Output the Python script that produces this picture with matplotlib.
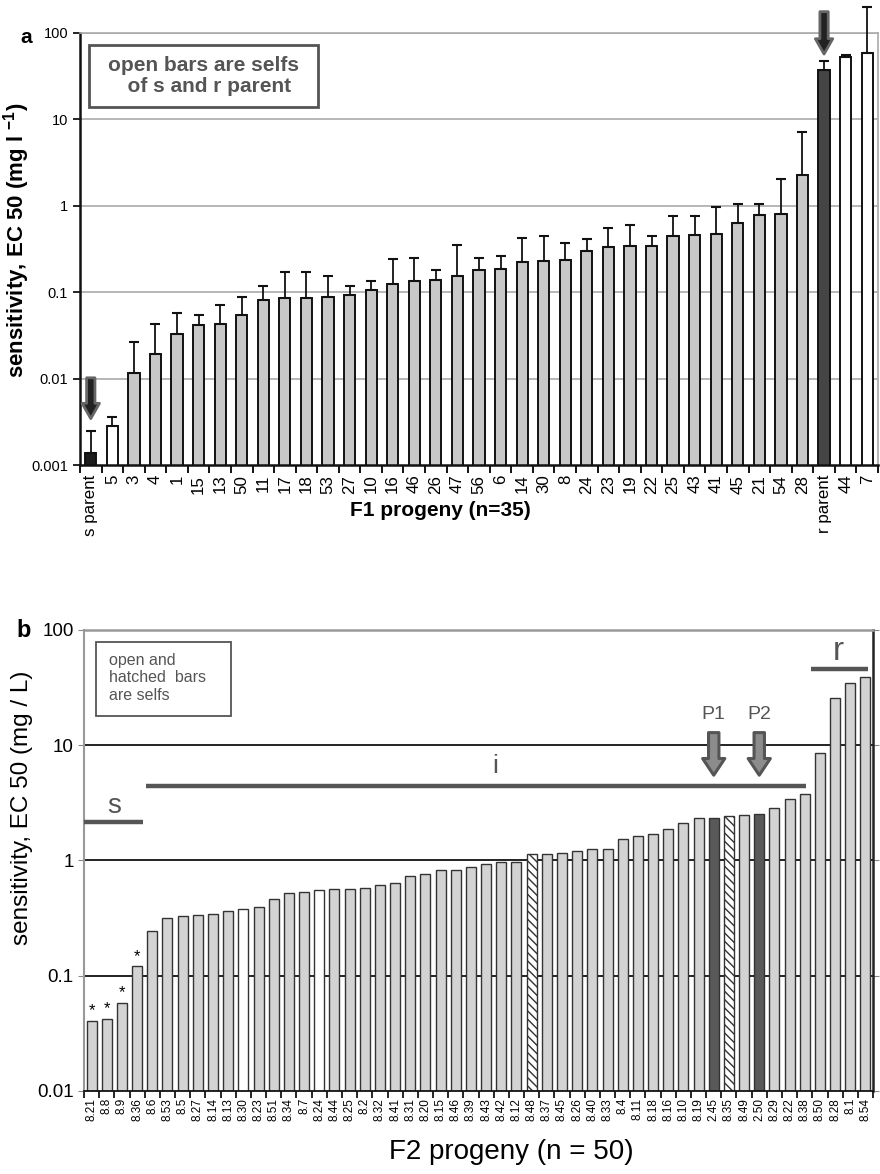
import matplotlib
matplotlib.use("Agg")
import matplotlib.pyplot as plt
from matplotlib.patches import Rectangle

plt.rcParams['font.family'] = ['Liberation Sans', 'DejaVu Sans']
plt.rcParams['mathtext.fontset'] = 'custom'
plt.rcParams['mathtext.rm'] = 'Liberation Sans'
plt.rcParams['mathtext.bf'] = 'Liberation Sans:bold'

# ---- panel a: F1 progeny ----
f1_labels = ['s parent', '5', '3', '4', '1', '15', '13', '50', '11', '17', '18', '53',
             '27', '10', '16', '46', '26', '47', '56', '6', '14', '30', '8', '24', '23',
             '19', '22', '25', '43', '41', '45', '21', '54', '28', 'r parent', '44', '7']
f1_ec50 = [0.00137, 0.0028, 0.0117, 0.0192, 0.0327, 0.0412, 0.0427, 0.0542, 0.0823,
           0.0859, 0.086, 0.088, 0.094, 0.107, 0.124, 0.135, 0.140, 0.154, 0.183, 0.188,
           0.222, 0.230, 0.239, 0.301, 0.331, 0.343, 0.343, 0.444, 0.460, 0.476, 0.64,
           0.783, 0.813, 2.25, 37.5, 52.5, 58.4]
f1_err_top = [0.00247, 0.0036, 0.0266, 0.0423, 0.0572, 0.0538, 0.0713, 0.0883, 0.118,
              0.170, 0.170, 0.154, 0.118, 0.134, 0.245, 0.251, 0.183, 0.349, 0.251, 0.261,
              0.429, 0.444, 0.375, 0.410, 0.554, 0.596, 0.444, 0.757, 0.757, 0.978, 1.06,
              1.06, 2.02, 7.13, 46.9, 56.0, 199.0]
f1_kind = ['s'] + ['open'] + ['f1'] * 32 + ['r', 'open', 'open']

# ---- panel b: F2 progeny ----
f2_labels = ['8.21', '8.8', '8.9', '8.36', '8.6', '8.53', '8.5', '8.27', '8.14', '8.13',
             '8.30', '8.23', '8.51', '8.34', '8.7', '8.24', '8.44', '8.25', '8.2', '8.32',
             '8.41', '8.31', '8.20', '8.15', '8.46', '8.39', '8.43', '8.42', '8.12', '8.48',
             '8.37', '8.45', '8.26', '8.40', '8.33', '8.4', '8.11', '8.18', '8.16', '8.10',
             '8.19', '2.45', '8.35', '8.49', '2.50', '8.29', '8.22', '8.38', '8.50', '8.28',
             '8.1', '8.54']
f2_ec50 = [0.0402, 0.0421, 0.058, 0.1205, 0.246, 0.320, 0.331, 0.338, 0.345, 0.368,
           0.381, 0.392, 0.459, 0.521, 0.535, 0.553, 0.565, 0.565, 0.576, 0.615,
           0.637, 0.733, 0.767, 0.819, 0.819, 0.882, 0.936, 0.961, 0.961, 1.143,
           1.143, 1.16, 1.206, 1.263, 1.27, 1.533, 1.615, 1.704, 1.872, 2.11,
           2.32, 2.35, 2.41, 2.46, 2.54, 2.86, 3.41, 3.76, 8.64, 25.6,
           34.6, 39.4]
f2_kind = ['f2'] * 52
for i in (10, 15):
    f2_kind[i] = 'open'
for i in (29, 42):
    f2_kind[i] = 'hatch'
for i in (41, 44):
    f2_kind[i] = 'parent'
f2_star = [0, 1, 2, 3]

fig = plt.figure(figsize=(8.8, 11.74), dpi=100)

# ================= panel a =================
ax1 = fig.add_axes([0.0909, 0.6039, 0.9068, 0.368])
ax1.set_yscale('log')
ax1.set_ylim(0.001, 100)
ax1.set_xlim(-0.5, len(f1_labels) - 0.5)

colors_a = {'s': '#1c1c1c', 'open': 'white', 'f1': '#c8c8c8', 'r': '#454545'}
x1 = list(range(len(f1_labels)))
for y in [0.01, 0.1, 1, 10, 100]:
    ax1.axhline(y, color='#aaaaaa', lw=1.2, zorder=0)
ax1.bar(x1, f1_ec50, width=0.52, color=[colors_a[k] for k in f1_kind],
        edgecolor='#111111', linewidth=1.4, zorder=2)
low = [0] * len(f1_ec50)
up = [t - v for t, v in zip(f1_err_top, f1_ec50)]
eb = ax1.errorbar(x1, f1_ec50, yerr=[low, up], fmt='none', ecolor='#111111',
                  elinewidth=1.3, capsize=3.3, capthick=1.5, zorder=3)
for part in eb.lines:
    if part is None:
        continue
    for p in part:
        p.set_clip_on(False)

ax1.set_yticks([0.001, 0.01, 0.1, 1, 10, 100])
ax1.set_yticklabels(['0.001', '0.01', '0.1', '1', '10', '100'], fontsize=10.5)
ax1.yaxis.set_minor_locator(matplotlib.ticker.NullLocator())
ax1.tick_params(axis='y', which='major', direction='out', length=5, width=1.2)
ax1.set_xticks(x1)
ax1.set_xticklabels(f1_labels, rotation=90, fontsize=12.2)
ax1.set_xticks([i - 0.5 for i in range(len(f1_labels) + 1)], minor=True)
ax1.tick_params(axis='x', which='major', length=0, pad=7)
ax1.tick_params(axis='x', which='minor', direction='out', length=6, width=1.3)
for s in ['left', 'bottom']:
    ax1.spines[s].set_color('#111111')
    ax1.spines[s].set_linewidth(1.8)
for s in ['top', 'right']:
    ax1.spines[s].set_color('#aaaaaa')
    ax1.spines[s].set_linewidth(1.2)

ax1.set_ylabel(r'sensitivity, EC 50 (mg l $^{\mathbf{-1}}$)', fontsize=16, fontweight='bold')
ax1.yaxis.set_label_coords(-0.06, 0.52)
ax1.set_xlabel('F1 progeny (n=35)', fontsize=15, fontweight='bold', labelpad=0)
ax1.xaxis.set_label_coords(0.452, -0.083)

ax1.add_patch(Rectangle((0.011, 0.829), 0.287, 0.143, transform=ax1.transAxes,
                        facecolor='white', edgecolor='#555555', lw=2, zorder=4))
ax1.text(0.155, 0.9, 'open bars are selfs\n  of s and r parent', transform=ax1.transAxes,
         ha='center', va='center', fontsize=15, fontweight='bold', color='#555555',
         linespacing=1.15, zorder=5)

arrow_a = dict(arrowstyle='simple,head_length=1.1,head_width=1.25,tail_width=0.6',
               mutation_scale=10, fc='#222222', ec='#666666', lw=2)
ax1.annotate('', xy=(0, 0.0032), xytext=(0, 0.011), arrowprops=arrow_a,
             annotation_clip=False)
ax1.annotate('', xy=(34, 53), xytext=(34, 190), arrowprops=arrow_a,
             annotation_clip=False)
fig.text(0.03, 0.968, 'a', fontsize=15, fontweight='bold', ha='center', va='center')

# ================= panel b =================
ax2 = fig.add_axes([0.0955, 0.0707, 0.8966, 0.3927])
ax2.set_yscale('log')
ax2.set_ylim(0.01, 100)
ax2.set_xlim(-0.5, len(f2_labels) - 0.5)
x2 = list(range(len(f2_labels)))

for y in [0.1, 1, 10]:
    ax2.axhline(y, color='#111111', lw=1.3, zorder=0)

colors_b = {'f2': '#d3d3d3', 'open': 'white', 'hatch': 'white', 'parent': '#595959'}
plt.rcParams['hatch.color'] = '#666666'
bars = ax2.bar(x2, f2_ec50, width=0.66, color=[colors_b[k] for k in f2_kind],
               edgecolor='#333333', linewidth=1.0, zorder=2)
for b, k in zip(bars, f2_kind):
    if k == 'hatch':
        b.set_hatch('\\\\\\\\')
for i in f2_star:
    ax2.annotate('*', xy=(i, f2_ec50[i]), xytext=(0, 2), textcoords='offset points',
                 ha='center', va='bottom', fontsize=12)

ax2.set_yticks([0.01, 0.1, 1, 10, 100])
ax2.set_yticklabels(['0.01', '0.1', '1', '10', '100'], fontsize=13.5)
ax2.yaxis.set_minor_locator(matplotlib.ticker.NullLocator())
ax2.tick_params(axis='y', which='major', direction='out', length=4, color='#888888',
                right=True, labelright=False)
ax2.set_xticks(x2)
ax2.set_xticklabels(f2_labels, rotation=90, fontsize=8.5)
ax2.set_xticks([i - 0.5 for i in range(len(f2_labels) + 1)], minor=True)
ax2.tick_params(axis='x', which='major', length=0, pad=5)
ax2.tick_params(axis='x', which='minor', direction='out', length=5, width=1.2)
ax2.spines['left'].set_color('#999999')
ax2.spines['left'].set_linewidth(1.5)
ax2.spines['top'].set_color('#999999')
ax2.spines['top'].set_linewidth(1.8)
ax2.spines['bottom'].set_color('#111111')
ax2.spines['bottom'].set_linewidth(1.3)
ax2.spines['right'].set_color('#222222')
ax2.spines['right'].set_linewidth(1.8)

ax2.set_ylabel('sensitivity, EC 50 (mg / L)', fontsize=17.5)
ax2.yaxis.set_label_coords(-0.065, 0.615)
ax2.set_xlabel('F2 progeny (n = 50)', fontsize=20)
ax2.xaxis.set_label_coords(0.542, -0.105)

ax2.add_patch(Rectangle((0.0148, 0.814), 0.172, 0.159, transform=ax2.transAxes,
                        facecolor='white', edgecolor='#555555', lw=1.3, zorder=4))
ax2.text(0.032, 0.95, 'open and\nhatched  bars\nare selfs', transform=ax2.transAxes,
         ha='left', va='top', fontsize=11.5, color='#555555', linespacing=1.2, zorder=5)

# group lines s / i / r
line_kw = dict(color='#555555', lw=3.2, solid_capstyle='butt', zorder=4)
ax2.plot([-0.5, 3.4], [2.14, 2.14], clip_on=False, **line_kw)
ax2.plot([3.6, 47.1], [4.47, 4.47], **line_kw)
ax2.plot([47.4, 51.2], [46.2, 46.2], **line_kw)
ax2.text(1.5, 2.95, 's', fontsize=20, color='#555555', ha='center', va='center')
ax2.text(26.6, 6.6, 'i', fontsize=19, color='#555555', ha='center', va='center')
ax2.text(49.2, 65, 'r', fontsize=24, color='#555555', ha='center', va='center')

arrow_b = dict(arrowstyle='simple,head_length=1.2,head_width=1.6,tail_width=0.75',
               mutation_scale=10, fc='#8c8c8c', ec='#555555', lw=2.2)
for xi, name in [(41, 'P1'), (44, 'P2')]:
    ax2.annotate('', xy=(xi, 5.2), xytext=(xi, 13.6), arrowprops=arrow_b)
    ax2.text(xi, 18.4, name, fontsize=14, color='#555555', ha='center', va='center')

fig.text(0.027, 0.463, 'b', fontsize=17, fontweight='bold', ha='center', va='center')

fig.savefig('out.png', dpi=100)
